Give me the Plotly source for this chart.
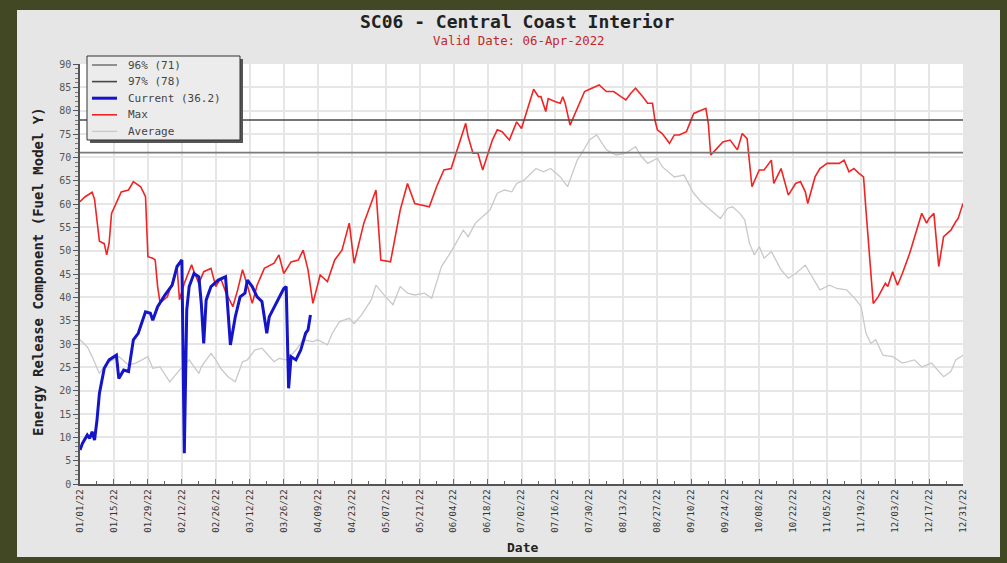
import pandas as pd
import plotly.graph_objects as go

# ---------------- data ----------------
title_text = "SC06 - Central Coast Interior"
subtitle_text = "Valid Date: 06-Apr-2022"
year_start = "2022-01-01"
year_end = "2022-12-31"

p96_value = 71
p97_value = 78
current_last = 36.2

# day-of-year offsets (0 = Jan 1) and values
max_days = [0, 2, 5, 6, 8, 10, 11, 12, 13, 17, 20, 22, 25, 27, 28, 30, 31, 32, 33, 36, 38, 40,
            41, 43, 46, 47, 49, 51, 54, 56, 58, 60, 63, 65, 67, 69, 71, 73, 76, 80, 82, 84, 87,
            90, 92, 94, 96, 99, 102, 105, 108, 111, 113, 117, 119, 122, 124, 128, 132, 135, 138,
            141, 144, 147, 150, 153, 156, 159, 160, 162, 164, 166, 168, 170, 172, 174, 177, 180,
            182, 184, 187, 189, 190, 192, 193, 196, 198, 199, 200, 202, 205, 208, 211, 214, 217,
            220, 223, 225, 227, 229, 232, 234, 236, 237, 238, 240, 243, 245, 247, 250, 253, 256,
            258, 259, 260, 262, 265, 268, 269, 271, 273, 275, 277, 280, 282, 285, 286, 289, 292,
            295, 297, 299, 300, 303, 305, 308, 313, 315, 317, 319, 321, 323, 324, 326, 327, 329,
            332, 333, 335, 337, 339, 342, 345, 347, 349, 350, 352, 354, 356, 359, 361, 362, 364]
max_vals = [60.5, 61.5, 62.5, 61.0, 52.0, 51.5, 49.1, 51.6, 58.0, 62.6, 63.0, 64.8, 63.7, 61.6,
            48.7, 48.4, 48.0, 42.3, 38.8, 40.1, 43.0, 46.6, 39.5, 43.0, 47.0, 45.5, 43.0, 45.5,
            46.2, 42.3, 44.1, 41.2, 38.0, 41.6, 45.9, 42.6, 38.7, 42.6, 46.2, 47.3, 49.1, 45.1,
            47.6, 48.0, 50.1, 45.9, 38.7, 44.8, 43.4, 48.0, 50.1, 55.9, 47.3, 55.9, 58.7, 63.0,
            48.0, 47.6, 58.7, 64.4, 60.1, 59.8, 59.4, 63.7, 67.3, 67.6, 72.3, 77.3, 74.4, 70.9,
            70.9, 67.3, 70.5, 73.7, 75.9, 75.5, 73.7, 77.6, 76.2, 79.4, 84.6, 83.0, 83.0, 79.8,
            82.6, 81.9, 81.6, 83.0, 81.6, 76.9, 80.5, 84.1, 84.8, 85.5, 84.1, 84.1, 83.0, 82.3,
            83.7, 84.8, 83.0, 81.6, 81.6, 78.0, 75.9, 75.1, 73.0, 74.8, 74.8, 75.5, 79.4, 80.1,
            80.5, 77.3, 70.5, 71.6, 73.3, 73.7, 73.0, 71.6, 75.1, 74.0, 63.7, 67.3, 67.3, 69.4,
            64.4, 67.6, 61.9, 64.4, 64.8, 62.6, 60.1, 65.8, 67.6, 68.7, 68.7, 69.4, 66.9, 67.6,
            66.6, 65.8, 58.7, 45.9, 38.7, 40.1, 43.0, 42.3, 45.5, 42.6, 45.1, 49.4, 54.8, 58.0,
            55.9, 56.9, 58.0, 46.6, 53.0, 54.4, 56.2, 56.9, 60.1]

avg_days = [0, 3, 5, 8, 11, 16, 20, 23, 28, 30, 33, 37, 41, 45, 49, 50, 54, 56, 58, 61, 64, 67,
            69, 72, 75, 77, 80, 82, 85, 89, 92, 96, 98, 102, 104, 107, 111, 113, 116, 120, 122,
            126, 129, 132, 135, 138, 142, 145, 147, 149, 153, 155, 158, 160, 163, 166, 169, 172,
            175, 178, 180, 183, 186, 188, 191, 194, 198, 201, 203, 205, 208, 210, 213, 215, 217,
            221, 225, 229, 231, 234, 238, 240, 245, 249, 253, 256, 260, 264, 267, 269, 272, 274,
            276, 278, 280, 282, 285, 289, 292, 295, 299, 302, 305, 309, 312, 316, 320, 322, 324,
            326, 328, 331, 335, 339, 344, 347, 351, 356, 359, 361, 364]
avg_vals = [30.9, 29.4, 27.3, 23.7, 25.9, 27.3, 25.5, 25.9, 27.3, 24.8, 25.1, 21.9, 24.4, 26.6,
            23.7, 25.1, 28.0, 26.6, 24.8, 23.0, 21.9, 26.2, 26.6, 28.7, 29.1, 28.0, 26.2, 26.9,
            26.6, 28.7, 30.9, 30.5, 30.9, 29.8, 32.3, 34.8, 35.5, 34.4, 36.2, 39.4, 42.6, 40.1,
            38.4, 42.3, 40.9, 40.5, 40.9, 39.8, 43.0, 46.6, 49.8, 51.6, 54.4, 53.0, 55.9, 57.3,
            58.7, 62.3, 63.0, 62.6, 64.4, 65.1, 66.5, 67.6, 66.9, 67.6, 65.8, 63.7, 66.6, 69.4,
            71.9, 73.7, 74.8, 73.3, 71.6, 70.5, 70.9, 72.3, 70.5, 68.7, 69.8, 68.0, 65.8, 66.2,
            62.3, 60.5, 58.7, 56.9, 59.1, 59.4, 58.0, 56.6, 51.5, 49.1, 50.9, 48.4, 49.8, 45.9,
            44.1, 45.1, 46.9, 44.4, 41.6, 42.6, 41.9, 41.6, 39.4, 38.0, 32.3, 30.1, 30.9, 27.6,
            27.3, 25.9, 26.6, 25.1, 25.9, 23.0, 24.1, 26.6, 27.6]

cur_days = [0, 1, 3, 4, 5, 6, 7, 8, 10, 12, 15, 16, 18, 20, 22, 24, 27, 29, 30, 32, 35, 38, 40,
            42, 43, 44, 45, 47, 49, 50, 51, 52, 54, 57, 60, 61, 62, 64, 66, 68, 69, 71, 73, 75,
            76, 77, 78, 81, 84, 85, 86, 87, 89, 91, 93, 94, 95]
cur_vals = [7.3, 8.7, 10.5, 9.8, 11.2, 9.4, 13.7, 19.4, 24.8, 26.6, 27.6, 22.6, 24.4, 24.1,
            30.9, 32.3, 36.9, 36.6, 35.1, 38.0, 40.5, 42.6, 46.6, 48.0, 6.6, 37.3, 42.3, 45.1,
            44.4, 38.7, 30.1, 39.4, 42.3, 43.7, 44.4, 38.0, 29.8, 35.8, 40.1, 40.9, 43.7, 42.3,
            40.1, 39.1, 35.1, 32.3, 35.8, 38.7, 41.9, 42.3, 20.5, 27.3, 26.6, 28.7, 32.3, 33.0,
            36.2]

legend_names = ["96% (71)", "97% (78)", "Current (36.2)", "Max", "Average"]

# ---------------- styles ----------------
MONO = "DejaVu Sans Mono, Liberation Mono, monospace"
C_P96, C_P97, C_CUR, C_MAX, C_AVG = "#7a7a7a", "#474747", "#1414c8", "#f02424", "#c9c9c9"
W_P96, W_P97, W_CUR, W_MAX, W_AVG = 1.6, 1.6, 3.0, 1.6, 1.3
C_FRAME, C_PANEL = "#414823", "#e6e6e6"

# figure geometry (pixels) used for paper-coordinate conversions
FIG_W, FIG_H = 1007, 563
M_L, M_R, M_T, M_B = 80, 44, 64, 79
PW, PH = FIG_W - M_L - M_R, FIG_H - M_T - M_B


def px(xp):
    return (xp - M_L) / PW


def py(yp):
    return (FIG_H - M_B - yp) / PH


base = pd.Timestamp(year_start)


def to_dates(days):
    return [(base + pd.Timedelta(days=d)).strftime("%Y-%m-%d") for d in days]


tick_dates = pd.date_range(year_start, year_end, freq="14D")
tick_text = [d.strftime("%m/%d/%y") for d in tick_dates]
minor_dates = pd.date_range("2022-01-08", year_end, freq="14D")

fig = go.Figure()
fig.add_trace(go.Scatter(x=to_dates(avg_days), y=avg_vals, mode="lines", name=legend_names[4],
                         line=dict(color=C_AVG, width=W_AVG), showlegend=False))
fig.add_trace(go.Scatter(x=to_dates(max_days), y=max_vals, mode="lines", name=legend_names[3],
                         line=dict(color=C_MAX, width=W_MAX), showlegend=False))
fig.add_trace(go.Scatter(x=[year_start, year_end], y=[p96_value, p96_value], mode="lines",
                         name=legend_names[0], line=dict(color=C_P96, width=W_P96),
                         showlegend=False))
fig.add_trace(go.Scatter(x=[year_start, year_end], y=[p97_value, p97_value], mode="lines",
                         name=legend_names[1], line=dict(color=C_P97, width=W_P97),
                         showlegend=False))
fig.add_trace(go.Scatter(x=to_dates(cur_days), y=cur_vals, mode="lines", name=legend_names[2],
                         line=dict(color=C_CUR, width=W_CUR), showlegend=False))

# ---------------- outer olive frame (outside the plot area) ----------------
x_lo, x_hi, y_lo, y_hi = px(0), px(FIG_W), py(FIG_H), py(0)
shapes = [
    dict(type="rect", xref="paper", yref="paper", x0=x_lo, x1=px(17), y0=y_lo, y1=y_hi,
         fillcolor=C_FRAME, line=dict(width=0), layer="below"),
    dict(type="rect", xref="paper", yref="paper", x0=px(1000), x1=x_hi, y0=y_lo, y1=y_hi,
         fillcolor=C_FRAME, line=dict(width=0), layer="below"),
    dict(type="rect", xref="paper", yref="paper", x0=x_lo, x1=x_hi, y0=py(10), y1=y_hi,
         fillcolor=C_FRAME, line=dict(width=0), layer="below"),
    dict(type="rect", xref="paper", yref="paper", x0=x_lo, x1=x_hi, y0=y_lo, y1=py(557),
         fillcolor=C_FRAME, line=dict(width=0), layer="below"),
]

# ---------------- hand-drawn legend box (compact like the reference) ----------------
leg_colors = [C_P96, C_P97, C_CUR, C_MAX, C_AVG]
leg_widths = [W_P96, W_P97, 3.0, W_MAX, W_AVG]
box_l, box_r, box_t, box_b = 87, 240, 56, 140
shapes += [
    dict(type="rect", xref="paper", yref="paper", x0=px(box_l + 3), x1=px(box_r + 3),
         y0=py(box_b + 3), y1=py(box_t + 3), fillcolor="#555555", line=dict(width=0),
         layer="above"),
    dict(type="rect", xref="paper", yref="paper", x0=px(box_l), x1=px(box_r),
         y0=py(box_b), y1=py(box_t), fillcolor="#ececec",
         line=dict(color="#333333", width=1), layer="above"),
]
annotations = []
for i, (nm, col, wd) in enumerate(zip(legend_names, leg_colors, leg_widths)):
    yc = 65 + i * 16.6
    shapes.append(dict(type="line", xref="paper", yref="paper", x0=px(92), x1=px(117),
                       y0=py(yc), y1=py(yc), line=dict(color=col, width=wd), layer="above"))
    annotations.append(dict(text=nm, xref="paper", yref="paper", x=px(126), y=py(yc),
                            xanchor="left", yanchor="middle", showarrow=False,
                            font=dict(family=MONO, size=11, color="#444444")))

annotations += [
    dict(text="<b>" + title_text + "</b>", xref="paper", yref="paper", x=px(517), y=py(22),
         xanchor="center", yanchor="middle", showarrow=False,
         font=dict(family=MONO, size=18, color="#222222")),
    dict(text=subtitle_text, xref="paper", yref="paper", x=px(519), y=py(41),
         xanchor="center", yanchor="middle", showarrow=False,
         font=dict(family=MONO, size=12.4, color="#c0282a")),
    dict(text="<b>Date</b>", xref="paper", yref="paper", x=px(522), y=py(547),
         xanchor="center", yanchor="middle", showarrow=False,
         font=dict(family=MONO, size=13, color="#222222")),
    dict(text="<b>Energy Release Component (Fuel Model Y)</b>", xref="paper",
         yref="paper", x=px(38), y=py(272), textangle=-90, xanchor="center",
         yanchor="middle", showarrow=False,
         font=dict(family=MONO, size=14, color="#222222")),
]

fig.update_layout(
    width=FIG_W, height=FIG_H,
    margin=dict(l=M_L, r=M_R, t=M_T, b=M_B),
    paper_bgcolor=C_PANEL,
    plot_bgcolor="#ffffff",
    showlegend=False,
    font=dict(family=MONO, color="#333333"),
    shapes=shapes,
    annotations=annotations,
)

fig.update_xaxes(
    type="date", range=[year_start, year_end],
    tickmode="array", tickvals=tick_dates, ticktext=tick_text, tickangle=-90,
    tickfont=dict(family=MONO, size=9, color="#333333"),
    ticks="inside", ticklen=5, tickcolor="#666666",
    showgrid=True, gridcolor="#e6e6e6", gridwidth=1.5,
    showline=True, linecolor="#555555", linewidth=1.5,
    minor=dict(tickmode="array", tickvals=minor_dates, ticks="inside", ticklen=3,
               tickcolor="#666666", showgrid=False),
    zeroline=False,
)
fig.update_yaxes(
    range=[0, 90], tickmode="linear", tick0=0, dtick=5,
    tickfont=dict(family=MONO, size=10, color="#555555"),
    ticks="outside", ticklen=5, tickcolor="#555555",
    showgrid=True, gridcolor="#e6e6e6", gridwidth=1.5,
    showline=True, linecolor="#555555", linewidth=1.5,
    minor=dict(dtick=1, ticks="outside", ticklen=3, tickcolor="#777777", showgrid=False),
    zeroline=False,
)

fig.write_html(
    "out.html",
    config={"displayModeBar": False},
    post_script="document.body.style.margin='0';document.body.style.overflow='hidden';"
                "document.body.style.background='" + C_FRAME + "';",
)
